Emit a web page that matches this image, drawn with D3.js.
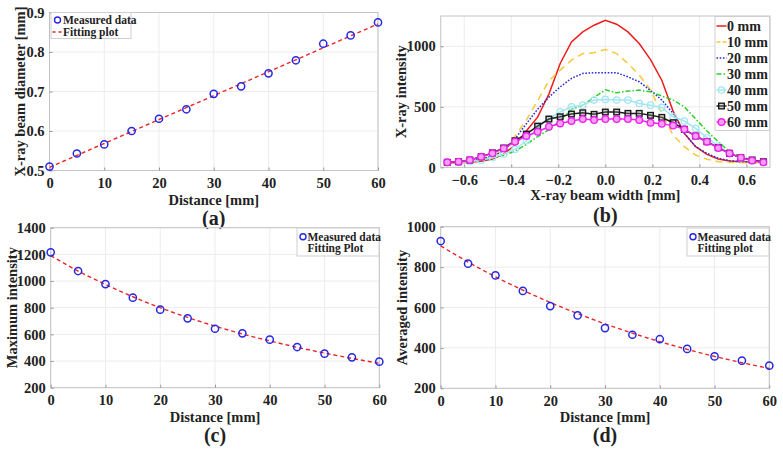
<!DOCTYPE html>
<html><head><meta charset="utf-8">
<script src="https://cdn.jsdelivr.net/npm/d3@7"></script>
<style>
body{margin:0;background:#fff}
text{font-family:"Liberation Serif","Times New Roman",serif;font-weight:bold;fill:#222}
</style>
</head><body>
<svg id="chart" width="783" height="451"></svg>
<script>
// ---------- DATA ----------
const distance = [0,5,10,15,20,25,30,35,40,45,50,55,60];
const beamDiameter = [0.510,0.543,0.566,0.600,0.631,0.655,0.694,0.713,0.746,0.779,0.821,0.842,0.875];
const diameterFitX = [0,60];
const diameterFitY = [0.508,0.871];

const maxIntensity = [1215,1075,977,875,785,720,642,608,560,505,455,428,395];
const maxIntensityFit = [1190,1075,975,882,800,727,662,603,551,503,460,420,383];

const avgIntensity = [929,817,759,682,607,561,498,465,443,395,358,337,312];
const avgIntensityFit = [905,825,752,686,625,570,519,473,431,393,358,327,298];

const beamWidth = [-0.672,-0.624,-0.576,-0.528,-0.48,-0.432,-0.384,-0.336,-0.288,-0.24,-0.192,-0.144,-0.096,-0.048,0,0.048,0.096,0.144,0.192,0.24,0.288,0.336,0.384,0.432,0.48,0.528,0.576,0.624,0.672];
const profileLabels = ["0 mm","10 mm","20 mm","30 mm","40 mm","50 mm","60 mm"];
const profile0  = [35,38,42,50,70,110,185,300,415,605,858,1036,1119,1174,1215,1182,1119,1023,890,720,465,281,171,108,69,53,47,44,42];
const profile10 = [38,40,46,60,90,140,260,390,550,715,803,885,940,946,974,940,858,762,640,446,267,171,102,67,47,42,40,38,37];
const profile20 = [40,44,52,70,95,135,235,360,480,580,665,735,776,781,781,781,748,707,635,556,446,280,171,116,75,55,47,45,42];
const profile30 = [40,45,50,60,75,100,135,190,255,310,390,478,514,578,640,616,630,638,624,589,556,500,400,300,212,129,88,61,45];
const profile40 = [40,42,48,60,80,110,150,220,330,400,459,500,514,556,561,556,556,528,514,495,418,383,322,245,176,116,75,55,45];
const profile50 = [42,47,61,88,120,160,220,275,341,399,418,440,451,438,457,457,446,446,430,413,369,314,259,212,163,116,80,61,47];
const profile60 = [42,47,61,88,116,157,212,259,294,336,363,383,399,391,399,399,399,391,369,360,345,314,259,212,160,116,80,57,42];

const ticksA_Y = [0.5,0.6,0.7,0.8,0.9];
const ticksDist = [0,10,20,30,40,50,60];
const ticksB_X = [-0.6,-0.4,-0.2,0,0.2,0.4,0.6];
const ticksB_Y = [0,500,1000];
const ticksC_Y = [200,400,600,800,1000,1200,1400];
const ticksD_Y = [200,400,600,800,1000];

// ---------- HELPERS ----------
const svg = d3.select("#chart");
const AXIS = "#c4c4c4", GRID = "#ececec";
const BLUE = "#2626e6", RED = "#e8262a";

function frame(g, x, y, xTicks, yTicks, xFmt, yFmt) {
  const [x0,x1] = x.range(), [y1,y0] = y.range();
  g.selectAll(".gx").data(xTicks).join("line")
    .attr("x1", d=>x(d)).attr("x2", d=>x(d)).attr("y1", y0).attr("y2", y1)
    .attr("stroke", GRID).attr("stroke-width", 1);
  g.selectAll(".gy").data(yTicks).join("line")
    .attr("y1", d=>y(d)).attr("y2", d=>y(d)).attr("x1", x0).attr("x2", x1)
    .attr("stroke", GRID).attr("stroke-width", 1);
  g.append("rect").attr("x", x0).attr("y", y0).attr("width", x1-x0).attr("height", y1-y0)
    .attr("fill","none").attr("stroke", AXIS).attr("stroke-width", 1);
  const ax = g.append("g").attr("transform", `translate(0,${y1})`)
    .call(d3.axisBottom(x).tickValues(xTicks).tickFormat(xFmt).tickSizeInner(-3).tickSizeOuter(0).tickPadding(7.5));
  const ay = g.append("g").attr("transform", `translate(${x0},0)`)
    .call(d3.axisLeft(y).tickValues(yTicks).tickFormat(yFmt).tickSizeInner(-3).tickSizeOuter(0).tickPadding(5));
  [ax, ay].forEach(a => {
    a.select(".domain").remove();
    a.selectAll(".tick line").attr("stroke", "#999");
    a.selectAll("text").attr("font-size", 14.5).attr("fill", "#262626")
      .style("font-family", '"Liberation Serif",serif').style("font-weight", "bold");
  });
}

function labels(g, x, y, xLabel, yLabel, yLabelX, xLabelY, letter, letterY) {
  const [x0,x1] = x.range(), [y1,y0] = y.range();
  const cx = (x0+x1)/2, cy = (y0+y1)/2;
  g.append("text").attr("x", cx).attr("y", xLabelY).attr("text-anchor","middle")
    .attr("font-size", 14.5).text(xLabel);
  g.append("text").attr("transform", `translate(${yLabelX},${cy}) rotate(-90)`)
    .attr("text-anchor","middle").attr("dominant-baseline","central")
    .attr("font-size", 14.5).text(yLabel);
  g.append("text").attr("x", cx).attr("y", letterY).attr("text-anchor","middle")
    .attr("font-size", 20).text(letter);
}

function scatterPanel(cfg) {
  const g = svg.append("g");
  const x = d3.scaleLinear().domain([0,60]).range([cfg.x0, cfg.x1]);
  const y = d3.scaleLinear().domain(cfg.yDomain).range([cfg.y1, cfg.y0]);
  frame(g, x, y, ticksDist, cfg.yTicks, d3.format("d"), cfg.yFmt);
  const line = d3.line().x((d,i)=>x(cfg.fitX[i])).y(d=>y(d)).curve(d3.curveMonotoneX);
  g.append("path").attr("d", line(cfg.fitY)).attr("fill","none")
    .attr("stroke", RED).attr("stroke-width", 1.4).attr("stroke-dasharray","4,3");
  g.selectAll(".pt").data(cfg.ys).join("circle")
    .attr("cx", (d,i)=>x(cfg.xs[i])).attr("cy", d=>y(d)).attr("r", 3.6)
    .attr("fill","none").attr("stroke", BLUE).attr("stroke-width", 1.5);
  const L = cfg.legend;
  g.append("rect").attr("x", L.x).attr("y", L.y).attr("width", L.w).attr("height", L.h)
    .attr("fill","#fff").attr("stroke","#cfcfcf").attr("stroke-width",1);
  g.append("circle").attr("cx", L.mx).attr("cy", L.r1).attr("r", 3)
    .attr("fill","none").attr("stroke", BLUE).attr("stroke-width", 1.4);
  if (L.showLine) {
    g.append("line").attr("x1", L.mx-5).attr("x2", L.mx+5).attr("y1", L.r2).attr("y2", L.r2)
      .attr("stroke", RED).attr("stroke-width", 1.4).attr("stroke-dasharray","3,3");
  }
  g.append("text").attr("x", L.tx).attr("y", L.r1).attr("dominant-baseline","central")
    .attr("font-size", 11.5).text(L.t1);
  g.append("text").attr("x", L.tx).attr("y", L.r2).attr("dominant-baseline","central")
    .attr("font-size", 11.5).text(L.t2);
  labels(g, x, y, "Distance [mm]", cfg.yLabel, cfg.yLabelX, cfg.xLabelY, cfg.letter, cfg.letterY);
}

// ---------- PANEL (a) ----------
scatterPanel({
  x0: 49.5, x1: 378, y0: 12.5, y1: 170.5, yDomain: [0.5, 0.9], yTicks: ticksA_Y,
  yFmt: d3.format(".1f"), xs: distance, ys: beamDiameter, fitX: diameterFitX, fitY: diameterFitY,
  yLabel: "X-ray beam diameter [mm]", yLabelX: 20, xLabelY: 205, letter: "(a)", letterY: 224.5,
  legend: {x: 51, y: 12.5, w: 80, h: 26, mx: 57.5, tx: 63, r1: 20, r2: 32, showLine: true,
           t1: "Measured data", t2: "Fitting plot"}
});

// ---------- PANEL (c) ----------
scatterPanel({
  x0: 50.7, x1: 379.3, y0: 227.7, y1: 387.7, yDomain: [200, 1400], yTicks: ticksC_Y,
  yFmt: d3.format("d"), xs: distance, ys: maxIntensity, fitX: distance, fitY: maxIntensityFit,
  yLabel: "Maximum intensity", yLabelX: 12, xLabelY: 421.5, letter: "(c)", letterY: 441.5,
  legend: {x: 297, y: 228, w: 82, h: 28, mx: 303, tx: 307.5, r1: 236.7, r2: 248, showLine: false,
           t1: "Measured data", t2: "Fitting Plot"}
});

// ---------- PANEL (d) ----------
scatterPanel({
  x0: 440.7, x1: 769.3, y0: 226.7, y1: 388.3, yDomain: [200, 1000], yTicks: ticksD_Y,
  yFmt: d3.format("d"), xs: distance, ys: avgIntensity, fitX: distance, fitY: avgIntensityFit,
  yLabel: "Averaged intensity", yLabelX: 402, xLabelY: 421.5, letter: "(d)", letterY: 441.5,
  legend: {x: 687, y: 228, w: 82, h: 28, mx: 693, tx: 697.5, r1: 236.7, r2: 248, showLine: false,
           t1: "Measured data", t2: "Fitting plot"}
});

// ---------- PANEL (b) ----------
(function(){
  const g = svg.append("g");
  const x = d3.scaleLinear().domain([-0.7, 0.7]).range([440.7, 770]);
  const y = d3.scaleLinear().domain([0, 1250]).range([167.4, 16]);
  frame(g, x, y, ticksB_X, ticksB_Y, d3.format(".1f"), d3.format("d"));
  const series = [
    {v: profile0,  c: "#ee1c1c", dash: null, m: null},
    {v: profile10, c: "#f7c83a", dash: "7,5", m: null},
    {v: profile20, c: "#2a2ad8", dash: "1.6,1.6", m: null},
    {v: profile30, c: "#2bcf2b", dash: "5,2,1.5,2", m: null},
    {v: profile40, c: "#a3e6f2", dash: null, m: "circle"},
    {v: profile50, c: "#1a1a1a", dash: null, m: "square"},
    {v: profile60, c: "#ee22ee", dash: null, m: "disc"}
  ];
  const line = d3.line().x((d,i)=>x(beamWidth[i])).y(d=>y(d));
  function marker(sel, m, c, cx, cy) {
    if (m === "circle") sel.append("circle").attr("cx", cx).attr("cy", cy).attr("r", 3.2)
      .attr("fill","none").attr("stroke", c).attr("stroke-width", 1.3);
    if (m === "square") sel.append("rect").attr("x", cx-2.8).attr("y", cy-2.8).attr("width", 5.6).attr("height", 5.6)
      .attr("fill","#888").attr("fill-opacity",0.35).attr("stroke", c).attr("stroke-width", 1.4);
    if (m === "disc") sel.append("circle").attr("cx", cx).attr("cy", cy).attr("r", 3.3)
      .attr("fill","#f6a0f6").attr("stroke", c).attr("stroke-width", 1.4);
  }
  series.forEach(s => {
    const p = g.append("path").attr("d", line(s.v)).attr("fill","none")
      .attr("stroke", s.c).attr("stroke-width", 1.5);
    if (s.dash) p.attr("stroke-dasharray", s.dash);
    if (s.m) s.v.forEach((d,i) => marker(g, s.m, s.c, x(beamWidth[i]), y(d)));
  });
  const lx = 715, ly = 16.5;
  g.append("rect").attr("x", lx).attr("y", ly).attr("width", 54.5).attr("height", 114)
    .attr("fill","#fff").attr("stroke","#cfcfcf").attr("stroke-width",1);
  series.forEach((s,k) => {
    const yy = 26 + k*16;
    const l = g.append("line").attr("x1", 716.5).attr("x2", 726.5).attr("y1", yy).attr("y2", yy)
      .attr("stroke", s.c).attr("stroke-width", 1.5);
    if (s.dash) l.attr("stroke-dasharray", k===1 ? "4,2" : s.dash);
    if (s.m) marker(g, s.m, s.c, 721.5, yy);
    g.append("text").attr("x", 727).attr("y", yy).attr("dominant-baseline","central")
      .attr("font-size", 14).text(profileLabels[k]);
  });
  labels(g, x, y, "X-ray beam width [mm]", "X-ray intensity", 401, 200, "(b)", 221.5);
})();
</script>
</body></html>
